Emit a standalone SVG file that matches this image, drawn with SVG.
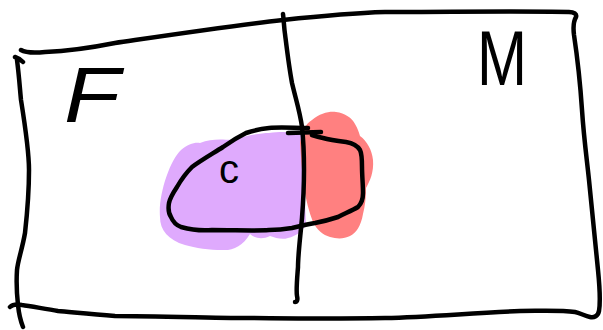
<svg xmlns="http://www.w3.org/2000/svg" width="603" height="330" viewBox="0 0 603 330">
<style>
.ink{fill:none;stroke:#000;stroke-width:4.5;stroke-linecap:round;stroke-linejoin:round}
.lbl{font-family:"Liberation Sans","DejaVu Sans",sans-serif;fill:#000}
</style>
<rect width="603" height="330" fill="#fff"/>
<g id="fills">
<path d="M160,217 C158,195 170,160 181,150 C188,144 195,142 200,143 C212,138 225,140 231,140 C245,136 260,133 269,133 C282,131 292,132 302,134 L306,225 C302,232 296,236 288,238 C282,240 276,238 270,236 C262,240 254,238 250,234 C243,246 232,251 222,250 C210,250 195,248 185,245 C168,240 160,230 160,217 Z" fill="#dfaafd"/>
<path d="M300,143 C302,132 305,124 312,120 C320,113 330,111 336,112 C345,113 352,118 355,124 C358,129 359,133 360,136 C367,141 372,150 373,160 C374,172 370,181 366,188 C366,198 365,206 363,214 C361,226 356,233 350,236 C344,239 337,239 330,237 C323,235 317,230 313,222 C309,212 306,200 304,188 C302,172 301,156 300,143 Z" fill="#ff8080"/>
</g>
<g id="frame">
<path class="ink" d="M21,50 C26,53 34,53 45,52 C70,51 95,47 115,43 C170,35 230,26 283,20 C320,16 350,13 385,12 C450,12 520,11 569,12 C574,12 577,14 576,17 C573,22 573,27 574,35 C577,55 580,80 582,110 C584,140 587,160 589,180 C592,210 595,240 598,270 C600,290 600,305 599,311 C598,316 594,318 590,317 C585,316 580,313 575,312 C560,310 540,311 520,311 C470,313 430,317 385,318 C320,319 270,318 231,318 C180,317 140,316 115,316 C90,314 70,312 58,311 C45,309 30,306 22,305 C16,304 12,305 10,307"/>
<path class="ink" d="M15,57 C18,58 21,60 23,62 M17,60 C19,75 20,90 21,100 C25,125 29,150 29,170 C29,195 27,215 25,233 C22,250 18,260 17,270 C16,285 17,296 18,305 C19,315 21,322 23,327"/>
</g>
<g id="divider">
<path class="ink" d="M283,14 C284,22 284,28 285,34 C287,50 289,67 292,83 C296,100 300,112 302,127 C304,145 304,160 304,170 C304,190 303,205 302,218 C300,240 298,255 298,267 C297,280 296,290 297,296 C298,300 297,302 295,302"/>
</g>
<g id="labels">
<text class="lbl" x="64" y="122" font-size="78" font-style="italic" textLength="56" lengthAdjust="spacingAndGlyphs">F</text>
<text class="lbl" x="477" y="85" font-size="78" textLength="50" lengthAdjust="spacingAndGlyphs">M</text>
</g>
<g id="region-c">
<path class="ink" d="M308,128 C295,128 280,127 269,128 C260,129 252,131 246,133 C238,137 230,142 223,147 C212,154 200,161 192,167 C186,173 181,180 177,187 C173,193 170,198 169,203 C168,209 169,214 171,217 C173,222 176,225 181,227 C192,230 202,231 212,230 C235,230 255,231 269,230 C278,230 286,229 292,228 C300,226 308,224 315,223 C325,221 332,219 338,217 C346,213 353,210 358,207 C362,203 363,198 363,193 C363,185 362,175 362,167 C362,160 362,154 360,150 C357,145 352,143 346,142 C338,141 330,140 323,138 C318,137 315,136 312,135"/>
<path class="ink" d="M288,133 L321,132"/>
<text class="lbl" x="219" y="183" font-size="40">c</text>
</g>
</svg>
